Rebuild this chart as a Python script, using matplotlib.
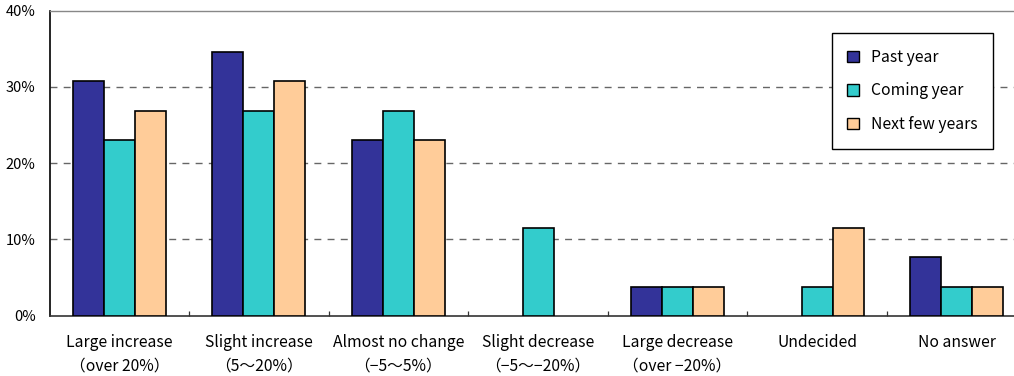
import matplotlib
matplotlib.use("Agg")
import matplotlib.pyplot as plt
import numpy as np
from matplotlib.patches import Patch

plt.rcParams['font.family'] = ['Noto Sans CJK JP', 'DejaVu Sans']

categories = [
    "Large increase\n（over 20%）",
    "Slight increase\n（5～20%）",
    "Almost no change\n（−5～5%）",
    "Slight decrease\n（−5～−20%）",
    "Large decrease\n（over −20%）",
    "Undecided",
    "No answer",
]
series_names = ["Past year", "Coming year", "Next few years"]
past_year = [30.8, 34.6, 23.1, 0.0, 3.8, 0.0, 7.7]
coming_year = [23.1, 26.9, 26.9, 11.5, 3.8, 3.8, 3.8]
next_few_years = [26.9, 30.8, 23.1, 0.0, 3.8, 11.5, 3.8]
y_ticks = [0, 10, 20, 30, 40]

colors = ["#333399", "#33CCCC", "#FFCC99"]
series = [past_year, coming_year, next_few_years]

fig = plt.figure(figsize=(10.14, 3.76), dpi=100)
ax = fig.add_axes([49.5 / 1014, 1 - 315.7 / 376, 1 - 49.5 / 1014, (315.7 - 10.7) / 376])

x = np.arange(len(categories))
w = 0.222
for j, (vals, c) in enumerate(zip(series, colors)):
    vals = np.asarray(vals)
    keep = vals > 0  # empty categories get no bar outline
    ax.bar(x[keep] + (j - 1) * w, vals[keep], width=w, color=c,
           edgecolor="black", linewidth=1.2, zorder=3)

ax.set_xlim(-0.5, 6.41)
ax.set_ylim(0, 40)
ax.set_yticks(y_ticks)
ax.set_yticklabels([f"{v}%" for v in y_ticks], fontsize=10.5)
ax.tick_params(axis="y", length=0, pad=10)

ax.set_xticks(x)
ax.set_xticklabels(categories, fontsize=11.3, linespacing=1.5)
ax.set_xticks(np.arange(0.5, 6.0, 1.0), minor=True)
ax.tick_params(axis="x", which="major", length=0, pad=13)
ax.tick_params(axis="x", which="minor", direction="in", length=3.5,
               width=0.9, color="#333333")

for yv in y_ticks[1:-1]:
    ax.axhline(yv, color="#666666", linewidth=1.0, linestyle=(0, (5, 4.5)),
               zorder=1)

ax.spines["right"].set_visible(False)
ax.spines["top"].set_color("#888888")
ax.spines["top"].set_linewidth(1.0)
ax.spines["left"].set_color("black")
ax.spines["left"].set_linewidth(1.2)
ax.spines["bottom"].set_color("#333333")
ax.spines["bottom"].set_linewidth(1.2)

handles = [Patch(facecolor=c, edgecolor="black", linewidth=1.0) for c in colors]
leg = fig.legend(handles, series_names, loc="upper left",
                 bbox_to_anchor=(831.7 / 1014, 1 - 33.3 / 376),
                 fontsize=11.3, frameon=True, fancybox=False, framealpha=1,
                 edgecolor="black", handlelength=0.75, handleheight=0.75,
                 handletextpad=0.75, labelspacing=1.05, borderpad=1.0,
                 borderaxespad=0)
leg.get_frame().set_linewidth(1.0)

fig.savefig("out.png", dpi=100)
